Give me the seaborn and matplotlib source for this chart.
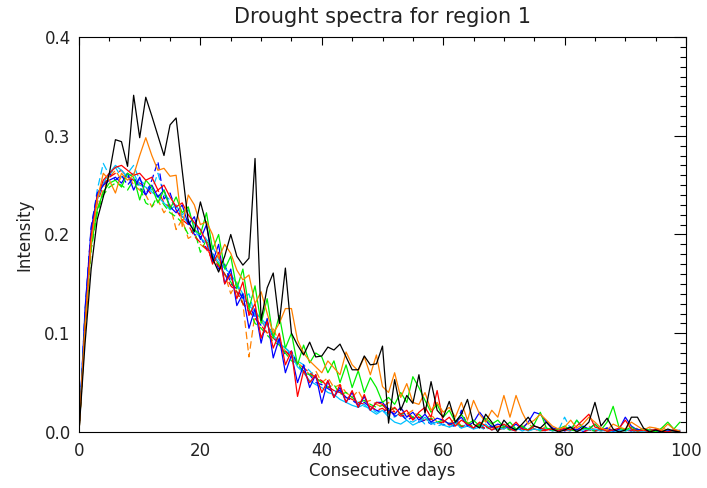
import matplotlib
matplotlib.use("Agg")
import matplotlib.pyplot as plt
import seaborn as sns
import numpy as np
import pandas as pd
from matplotlib.ticker import MultipleLocator, FormatStrFormatter

days = list(range(100))

black_solid = [
    0.000, 0.090, 0.165, 0.215, 0.238, 0.262, 0.296, 0.294, 0.269, 0.341,
    0.298, 0.339, 0.320, 0.300, 0.280, 0.311, 0.318, 0.265, 0.213, 0.203,
    0.233, 0.210, 0.176, 0.162, 0.178, 0.200, 0.178, 0.169, 0.176, 0.277,
    0.113, 0.146, 0.161, 0.110, 0.166, 0.100, 0.088, 0.078, 0.091, 0.076,
    0.077, 0.086, 0.083, 0.089, 0.076, 0.063, 0.063, 0.077, 0.068, 0.069,
    0.087, 0.009, 0.053, 0.022, 0.037, 0.029, 0.058, 0.019, 0.051, 0.022,
    0.015, 0.031, 0.010, 0.018, 0.033, 0.008, 0.004, 0.018, 0.010, 0.000,
    0.012, 0.005, 0.002, 0.008, 0.015, 0.006, 0.004, 0.010, 0.003, 0.000,
    0.002, 0.005, 0.000, 0.004, 0.010, 0.030, 0.006, 0.014, 0.003, 0.000,
    0.002, 0.015, 0.015, 0.004, 0.000, 0.002, 0.000, 0.003, 0.001, 0.000]

orange_solid = [
    0.000, 0.105, 0.192, 0.235, 0.262, 0.255, 0.242, 0.262, 0.255, 0.260,
    0.280, 0.298, 0.280, 0.265, 0.267, 0.259, 0.260, 0.208, 0.240, 0.230,
    0.210, 0.213, 0.200, 0.176, 0.190, 0.181, 0.164, 0.154, 0.159, 0.130,
    0.142, 0.120, 0.100, 0.110, 0.125, 0.125, 0.093, 0.080, 0.072, 0.066,
    0.060, 0.072, 0.065, 0.058, 0.081, 0.068, 0.062, 0.076, 0.058, 0.078,
    0.046, 0.040, 0.060, 0.035, 0.049, 0.030, 0.028, 0.040, 0.022, 0.030,
    0.020, 0.025, 0.015, 0.030, 0.012, 0.032, 0.018, 0.010, 0.022, 0.015,
    0.037, 0.015, 0.037, 0.020, 0.008, 0.012, 0.018, 0.012, 0.006, 0.003,
    0.005, 0.012, 0.004, 0.008, 0.015, 0.010, 0.004, 0.002, 0.008, 0.005,
    0.003, 0.010, 0.006, 0.002, 0.005, 0.004, 0.002, 0.008, 0.003, 0.001]

green_solid = [
    0.000, 0.110, 0.188, 0.225, 0.243, 0.252, 0.255, 0.248, 0.262, 0.258,
    0.235, 0.255, 0.248, 0.232, 0.245, 0.226, 0.238, 0.222, 0.228, 0.205,
    0.200, 0.222, 0.185, 0.200, 0.165, 0.178, 0.145, 0.165, 0.125, 0.148,
    0.110, 0.135, 0.095, 0.118, 0.085, 0.100, 0.068, 0.088, 0.070, 0.080,
    0.076, 0.060, 0.072, 0.050, 0.068, 0.045, 0.062, 0.040, 0.055, 0.045,
    0.030, 0.035, 0.028, 0.040, 0.030, 0.056, 0.045, 0.032, 0.020, 0.028,
    0.015, 0.022, 0.010, 0.018, 0.008, 0.012, 0.006, 0.014, 0.008, 0.012,
    0.005, 0.010, 0.003, 0.006, 0.002, 0.008, 0.020, 0.004, 0.002, 0.003,
    0.006, 0.002, 0.012, 0.004, 0.003, 0.008, 0.002, 0.010, 0.026, 0.004,
    0.002, 0.005, 0.001, 0.003, 0.002, 0.000, 0.004, 0.010, 0.003, 0.010]

cyan_solid = [
    0.000, 0.118, 0.198, 0.235, 0.252, 0.262, 0.270, 0.265, 0.258, 0.262,
    0.250, 0.248, 0.243, 0.238, 0.232, 0.225, 0.230, 0.218, 0.212, 0.205,
    0.196, 0.192, 0.180, 0.172, 0.166, 0.160, 0.150, 0.140, 0.128, 0.122,
    0.115, 0.108, 0.098, 0.090, 0.085, 0.078, 0.066, 0.060, 0.052, 0.048,
    0.045, 0.040, 0.038, 0.033, 0.030, 0.027, 0.025, 0.028, 0.022, 0.018,
    0.022, 0.015, 0.010, 0.008, 0.012, 0.007, 0.010, 0.015, 0.008, 0.010,
    0.007, 0.005, 0.009, 0.004, 0.006, 0.003, 0.005, 0.008, 0.002, 0.004,
    0.003, 0.006, 0.002, 0.004, 0.001, 0.003, 0.002, 0.004, 0.001, 0.002,
    0.003, 0.001, 0.012, 0.004, 0.002, 0.003, 0.001, 0.002, 0.000, 0.002,
    0.001, 0.003, 0.001, 0.000, 0.002, 0.001, 0.000, 0.002, 0.001, 0.002]

blue_solid = [
    0.000, 0.125, 0.205, 0.240, 0.250, 0.255, 0.258, 0.252, 0.262, 0.245,
    0.258, 0.240, 0.250, 0.238, 0.245, 0.228, 0.222, 0.230, 0.210, 0.218,
    0.195, 0.210, 0.172, 0.190, 0.150, 0.165, 0.128, 0.140, 0.105, 0.125,
    0.090, 0.115, 0.075, 0.095, 0.060, 0.078, 0.050, 0.068, 0.045, 0.058,
    0.029, 0.052, 0.035, 0.045, 0.030, 0.040, 0.025, 0.036, 0.022, 0.030,
    0.030, 0.022, 0.018, 0.025, 0.015, 0.020, 0.012, 0.018, 0.010, 0.014,
    0.012, 0.008, 0.010, 0.015, 0.006, 0.010, 0.020, 0.012, 0.005, 0.008,
    0.006, 0.004, 0.008, 0.003, 0.010, 0.020, 0.018, 0.010, 0.004, 0.002,
    0.003, 0.005, 0.002, 0.006, 0.003, 0.008, 0.002, 0.004, 0.001, 0.003,
    0.015, 0.006, 0.002, 0.003, 0.001, 0.002, 0.000, 0.001, 0.002, 0.001]

red_solid = [
    0.000, 0.108, 0.198, 0.238, 0.255, 0.262, 0.268, 0.270, 0.265, 0.260,
    0.262, 0.255, 0.258, 0.245, 0.250, 0.238, 0.228, 0.232, 0.220, 0.212,
    0.205, 0.192, 0.170, 0.182, 0.150, 0.160, 0.135, 0.152, 0.118, 0.130,
    0.095, 0.112, 0.085, 0.100, 0.068, 0.082, 0.036, 0.062, 0.050, 0.058,
    0.040, 0.052, 0.035, 0.048, 0.030, 0.042, 0.025, 0.038, 0.022, 0.030,
    0.028, 0.020, 0.025, 0.018, 0.022, 0.012, 0.020, 0.025, 0.015, 0.042,
    0.010, 0.015, 0.006, 0.012, 0.008, 0.004, 0.010, 0.006, 0.002, 0.005,
    0.008, 0.004, 0.010, 0.003, 0.002, 0.006, 0.004, 0.002, 0.003, 0.001,
    0.004, 0.002, 0.006, 0.012, 0.018, 0.005, 0.003, 0.001, 0.002, 0.004,
    0.012, 0.003, 0.001, 0.002, 0.000, 0.003, 0.001, 0.000, 0.002, 0.000]

orange_dashed = [
    0.000, 0.100, 0.185, 0.225, 0.245, 0.258, 0.265, 0.255, 0.262, 0.250,
    0.245, 0.240, 0.228, 0.235, 0.222, 0.230, 0.205, 0.215, 0.196, 0.200,
    0.190, 0.185, 0.178, 0.170, 0.160, 0.140, 0.152, 0.130, 0.076, 0.120,
    0.115, 0.100, 0.105, 0.090, 0.082, 0.078, 0.070, 0.065, 0.058, 0.062,
    0.050, 0.055, 0.045, 0.048, 0.040, 0.035, 0.042, 0.030, 0.032, 0.028,
    0.025, 0.030, 0.020, 0.024, 0.018, 0.022, 0.015, 0.012, 0.018, 0.010,
    0.012, 0.008, 0.014, 0.006, 0.010, 0.005, 0.008, 0.012, 0.004, 0.006,
    0.003, 0.007, 0.002, 0.005, 0.009, 0.003, 0.002, 0.006, 0.001, 0.004,
    0.002, 0.005, 0.001, 0.003, 0.006, 0.002, 0.001, 0.004, 0.002, 0.000,
    0.003, 0.001, 0.004, 0.002, 0.000, 0.002, 0.005, 0.001, 0.002, 0.000]

cyan_dashed = [
    0.000, 0.120, 0.205, 0.245, 0.272, 0.260, 0.268, 0.258, 0.262, 0.270,
    0.255, 0.250, 0.245, 0.262, 0.240, 0.235, 0.228, 0.220, 0.225, 0.210,
    0.205, 0.195, 0.188, 0.175, 0.168, 0.155, 0.150, 0.135, 0.140, 0.118,
    0.112, 0.105, 0.100, 0.092, 0.085, 0.080, 0.072, 0.068, 0.062, 0.055,
    0.050, 0.046, 0.042, 0.040, 0.035, 0.032, 0.030, 0.026, 0.024, 0.020,
    0.022, 0.018, 0.015, 0.020, 0.012, 0.010, 0.014, 0.008, 0.010, 0.006,
    0.008, 0.005, 0.007, 0.004, 0.009, 0.003, 0.005, 0.002, 0.006, 0.003,
    0.004, 0.002, 0.005, 0.001, 0.003, 0.006, 0.002, 0.001, 0.004, 0.002,
    0.015, 0.003, 0.001, 0.002, 0.004, 0.001, 0.003, 0.000, 0.002, 0.001,
    0.003, 0.001, 0.000, 0.002, 0.001, 0.003, 0.000, 0.001, 0.002, 0.001]

blue_dashed = [
    0.000, 0.122, 0.208, 0.242, 0.250, 0.262, 0.255, 0.260, 0.250, 0.258,
    0.248, 0.240, 0.255, 0.274, 0.236, 0.242, 0.225, 0.218, 0.215, 0.200,
    0.198, 0.186, 0.182, 0.165, 0.170, 0.150, 0.145, 0.135, 0.130, 0.115,
    0.108, 0.112, 0.095, 0.090, 0.078, 0.082, 0.068, 0.062, 0.058, 0.050,
    0.048, 0.044, 0.040, 0.042, 0.035, 0.032, 0.028, 0.030, 0.025, 0.022,
    0.020, 0.024, 0.016, 0.018, 0.012, 0.015, 0.010, 0.012, 0.008, 0.011,
    0.007, 0.009, 0.005, 0.022, 0.006, 0.004, 0.008, 0.003, 0.006, 0.002,
    0.005, 0.003, 0.001, 0.004, 0.002, 0.006, 0.003, 0.001, 0.002, 0.004,
    0.001, 0.003, 0.002, 0.000, 0.003, 0.001, 0.002, 0.004, 0.001, 0.000,
    0.002, 0.001, 0.003, 0.000, 0.001, 0.002, 0.000, 0.001, 0.000, 0.001]

green_dashed = [
    0.000, 0.105, 0.185, 0.222, 0.240, 0.248, 0.252, 0.250, 0.245, 0.255,
    0.248, 0.232, 0.228, 0.240, 0.230, 0.222, 0.218, 0.212, 0.200, 0.205,
    0.182, 0.195, 0.178, 0.170, 0.160, 0.152, 0.142, 0.130, 0.125, 0.110,
    0.105, 0.098, 0.092, 0.088, 0.080, 0.072, 0.070, 0.060, 0.058, 0.055,
    0.050, 0.045, 0.048, 0.038, 0.040, 0.035, 0.030, 0.032, 0.028, 0.025,
    0.027, 0.022, 0.024, 0.018, 0.020, 0.015, 0.018, 0.012, 0.014, 0.010,
    0.012, 0.008, 0.010, 0.006, 0.009, 0.005, 0.007, 0.004, 0.006, 0.003,
    0.005, 0.002, 0.004, 0.006, 0.002, 0.003, 0.001, 0.004, 0.002, 0.001,
    0.003, 0.002, 0.001, 0.004, 0.002, 0.001, 0.003, 0.001, 0.000, 0.002,
    0.001, 0.003, 0.001, 0.002, 0.000, 0.001, 0.002, 0.001, 0.000, 0.001]

red_dashed = [
    0.000, 0.110, 0.195, 0.232, 0.250, 0.258, 0.262, 0.265, 0.258, 0.255,
    0.252, 0.248, 0.240, 0.245, 0.232, 0.228, 0.225, 0.215, 0.210, 0.198,
    0.192, 0.185, 0.175, 0.168, 0.160, 0.148, 0.142, 0.130, 0.122, 0.115,
    0.108, 0.100, 0.095, 0.090, 0.082, 0.075, 0.070, 0.065, 0.060, 0.055,
    0.052, 0.046, 0.042, 0.040, 0.036, 0.033, 0.030, 0.028, 0.026, 0.022,
    0.024, 0.019, 0.021, 0.016, 0.018, 0.013, 0.015, 0.011, 0.013, 0.009,
    0.010, 0.007, 0.009, 0.005, 0.008, 0.004, 0.006, 0.003, 0.005, 0.002,
    0.004, 0.003, 0.001, 0.004, 0.002, 0.003, 0.001, 0.002, 0.004, 0.001,
    0.002, 0.001, 0.003, 0.000, 0.002, 0.001, 0.003, 0.001, 0.000, 0.002,
    0.001, 0.002, 0.000, 0.001, 0.003, 0.001, 0.000, 0.002, 0.001, 0.000]

series_names = ["black", "orange", "green", "cyan", "blue", "red",
                "orange_d", "cyan_d", "blue_d", "green_d", "red_d"]
series_values = [black_solid, orange_solid, green_solid, cyan_solid, blue_solid,
                 red_solid, orange_dashed, cyan_dashed, blue_dashed, green_dashed,
                 red_dashed]
series_colors = ["#000000", "#ff8000", "#00ee00", "#00c0ff", "#0000ff", "#ff0000",
                 "#ff8000", "#00c0ff", "#0000ff", "#00ee00", "#ff0000"]
series_dashed = [False, False, False, False, False, False, True, True, True, True, True]

title_text = "Drought spectra for region 1"
x_label = "Consecutive days"
y_label = "Intensity"

sns.set_style("white")
plt.rcParams['font.family'] = ['DejaVu Sans']

fig = plt.figure(figsize=(7.07, 4.88), dpi=100)
ax = fig.add_axes([79/707, 1-432/488, (686-79)/707, (432-37)/488])

order = [6, 7, 8, 9, 10, 3, 4, 2, 5, 1, 0]
for i in order:
    df = pd.DataFrame({"day": days, "val": series_values[i]})
    ls = (0, (6, 3)) if series_dashed[i] else "-"
    sns.lineplot(data=df, x="day", y="val", ax=ax, color=series_colors[i],
                 linewidth=0.9, linestyle=ls, estimator=None, legend=False)

ax.set_xlim(0, 100)
ax.set_ylim(0, 0.4)
ax.xaxis.set_major_locator(MultipleLocator(20))
ax.xaxis.set_minor_locator(MultipleLocator(5))
ax.yaxis.set_major_locator(MultipleLocator(0.1))
ax.yaxis.set_minor_locator(MultipleLocator(0.01))
ax.yaxis.set_major_formatter(FormatStrFormatter('%.1f'))
ax.xaxis.set_major_formatter(FormatStrFormatter('%d'))

ax.tick_params(axis='both', which='both', direction='in', top=True, right=True,
               width=0.8, colors='black', labelsize=12, labelcolor='#222222')
ax.tick_params(axis='y', which='major', length=8.6, pad=6)
ax.tick_params(axis='y', which='minor', length=4.3)
ax.tick_params(axis='x', which='major', length=5.8, pad=7)
ax.tick_params(axis='x', which='minor', length=2.9)

for s in ax.spines.values():
    s.set_color('black')
    s.set_linewidth(0.8)
    s.set_visible(True)

ax.set_title(title_text, fontsize=15, pad=10, color='#222222')
ax.set_xlabel(x_label, fontsize=12, labelpad=2, color='#222222')
ax.set_ylabel(y_label, fontsize=12, labelpad=8, color='#222222')

fig.savefig("out.png", dpi=100)
